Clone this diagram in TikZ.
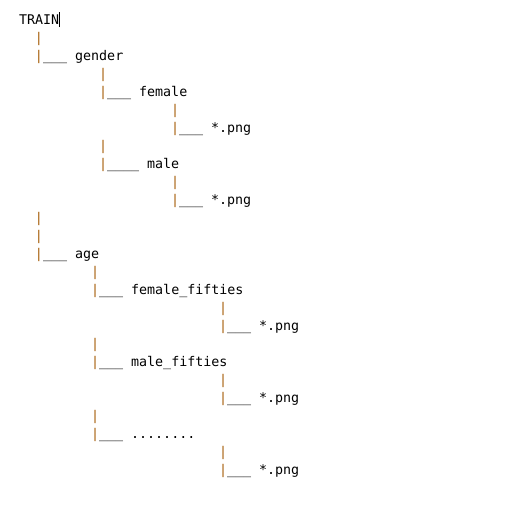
\documentclass[tikz,border=0pt]{standalone}
\usepackage{fontspec}
\setmonofont{DejaVu Sans Mono}
\usepackage{tikz}

\definecolor{pipebrown}{RGB}{165,92,8}
\newcommand{\pp}{\textcolor{pipebrown}{|}}

\begin{document}
\begin{tikzpicture}[x=0.75pt,y=0.75pt,yscale=-1,xscale=1,
  line/.style={anchor=base west,inner sep=0pt,outer sep=0pt,font=\ttfamily\fontsize{10pt}{12pt}\selectfont,text=black}]
%set diagram size to 529 x 504
\useasboundingbox (0,0) rectangle (529,504);

%Text Node [root]
\node [line] (train) at (19,24) {TRAIN};
%Straight Lines [cursor]
\draw [line width=0.75pt] (train.base east) ++(0.5,3) -- ++(0,-15);

%Text Node [gender]
\node [line] (p1) at (35,42) {\pp};
\node [line] (gender) at (35,60) {\pp\_\_\_ gender};
\node [line] (p3) at (99,78) {\pp};
\node [line] (female) at (99,96) {\pp\_\_\_ female};
\node [line] (p5) at (171,114) {\pp};
\node [line] (fpng) at (171,132) {\pp\_\_\_ *.png};
\node [line] (p7) at (99,150) {\pp};
\node [line] (male) at (99,168) {\pp\_\_\_\_ male};
\node [line] (p9) at (171,186) {\pp};
\node [line] (mpng) at (171,204) {\pp\_\_\_ *.png};

%Text Node [age]
\node [line] (p11) at (35,222) {\pp};
\node [line] (p12) at (35,240) {\pp};
\node [line] (age) at (35,258) {\pp\_\_\_ age};
\node [line] (p14) at (91,276) {\pp};
\node [line] (ffifties) at (91,294) {\pp\_\_\_ female\_fifties};
\node [line] (p16) at (219,312) {\pp};
\node [line] (ffpng) at (219,330) {\pp\_\_\_ *.png};
\node [line] (p18) at (91,348) {\pp};
\node [line] (mfifties) at (91,366) {\pp\_\_\_ male\_fifties};
\node [line] (p20) at (219,384) {\pp};
\node [line] (mfpng) at (219,402) {\pp\_\_\_ *.png};
\node [line] (p22) at (91,420) {\pp};
\node [line] (others) at (91,438) {\pp\_\_\_ ........};
\node [line] (p24) at (219,456) {\pp};
\node [line] (opng) at (219,474) {\pp\_\_\_ *.png};

\end{tikzpicture}
\end{document}
